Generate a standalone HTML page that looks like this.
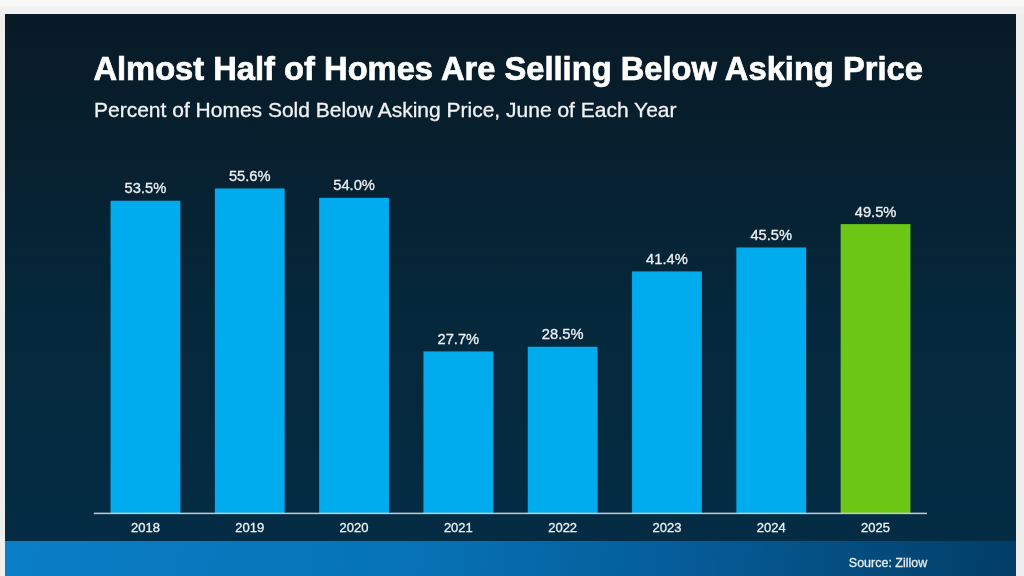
<!DOCTYPE html>
<html><head><meta charset="utf-8">
<style>
html,body{margin:0;padding:0;}
body{width:1024px;height:576px;overflow:hidden;background:#eeeeed;position:relative;font-family:"Liberation Sans",sans-serif;}
#panel{position:absolute;left:5px;top:14px;width:1011px;height:562px;filter:blur(0.5px);background:linear-gradient(180deg,#081a26 0%,#071f2e 22%,#05273a 50%,#032d46 100%);overflow:hidden;}
#footer{position:absolute;left:0;top:526.5px;width:1011px;height:36px;background:linear-gradient(100deg,#0a7ec6 0%,#0673b6 40%,#055b97 68%,#023d66 100%);}
.t{position:absolute;white-space:nowrap;}
.t,.lab,.yr{-webkit-text-stroke:0.3px currentColor;}
.bar{position:absolute;background:#00acee;}
.lab{position:absolute;width:120px;text-align:center;color:#eef1f3;white-space:nowrap;}
.yr{position:absolute;width:120px;text-align:center;color:#f0f2f4;white-space:nowrap;}
</style></head><body>
<div style="position:absolute;left:0;top:0;width:1024px;height:14px;background:linear-gradient(180deg,#fafafa 0%,#f8f8f7 30%,#f2f1ef 60%,#eef0f1 100%);"></div>
<div id="panel">
<div class="t" style="left:88.40px;top:35.17px;font-size:32.7px;line-height:40px;font-weight:bold;color:#ffffff;-webkit-text-stroke:0.7px #fff;">Almost Half of Homes Are Selling Below Asking Price</div>
<div class="t" style="left:89.00px;top:83.22px;font-size:21px;line-height:26px;color:#f1f3f5;">Percent of Homes Sold Below Asking Price, June of Each Year</div>
<svg style="position:absolute;left:0;top:0" width="1011" height="562" viewBox="5 14 1011 562"><rect x="110.55" y="200.74" width="69.8" height="312.66" fill="#00acee"/><rect x="214.85" y="188.48" width="69.8" height="324.92" fill="#00acee"/><rect x="319.15" y="197.82" width="69.8" height="315.58" fill="#00acee"/><rect x="423.45" y="351.41" width="69.8" height="161.99" fill="#00acee"/><rect x="527.75" y="346.74" width="69.8" height="166.66" fill="#00acee"/><rect x="632.05" y="271.40" width="69.8" height="242.00" fill="#00acee"/><rect x="736.35" y="247.46" width="69.8" height="265.94" fill="#00acee"/><rect x="840.65" y="224.10" width="69.8" height="289.30" fill="#6cc614"/><rect x="93.80" y="512.65" width="833.20" height="1.5" fill="#c3ccd3"/></svg>
<div class="lab" style="left:80.45px;top:165.15px;font-size:14.7px;line-height:18px;">53.5%</div>
<div class="yr" style="left:80.45px;top:504.70px;font-size:13px;line-height:18px;">2018</div>
<div class="lab" style="left:184.75px;top:152.88px;font-size:14.7px;line-height:18px;">55.6%</div>
<div class="yr" style="left:184.75px;top:504.70px;font-size:13px;line-height:18px;">2019</div>
<div class="lab" style="left:289.05px;top:162.23px;font-size:14.7px;line-height:18px;">54.0%</div>
<div class="yr" style="left:289.05px;top:504.70px;font-size:13px;line-height:18px;">2020</div>
<div class="lab" style="left:393.35px;top:315.82px;font-size:14.7px;line-height:18px;">27.7%</div>
<div class="yr" style="left:393.35px;top:504.70px;font-size:13px;line-height:18px;">2021</div>
<div class="lab" style="left:497.65px;top:311.15px;font-size:14.7px;line-height:18px;">28.5%</div>
<div class="yr" style="left:497.65px;top:504.70px;font-size:13px;line-height:18px;">2022</div>
<div class="lab" style="left:601.95px;top:235.81px;font-size:14.7px;line-height:18px;">41.4%</div>
<div class="yr" style="left:601.95px;top:504.70px;font-size:13px;line-height:18px;">2023</div>
<div class="lab" style="left:706.25px;top:211.87px;font-size:14.7px;line-height:18px;">45.5%</div>
<div class="yr" style="left:706.25px;top:504.70px;font-size:13px;line-height:18px;">2024</div>
<div class="lab" style="left:810.55px;top:188.51px;font-size:14.7px;line-height:18px;">49.5%</div>
<div class="yr" style="left:810.55px;top:504.70px;font-size:13px;line-height:18px;">2025</div>
<div id="footer"></div>
<div class="t" style="right:88.70px;top:540.97px;font-size:12.5px;line-height:16px;color:#e6ecf0;">Source: Zillow</div>
</div>
</body></html>
